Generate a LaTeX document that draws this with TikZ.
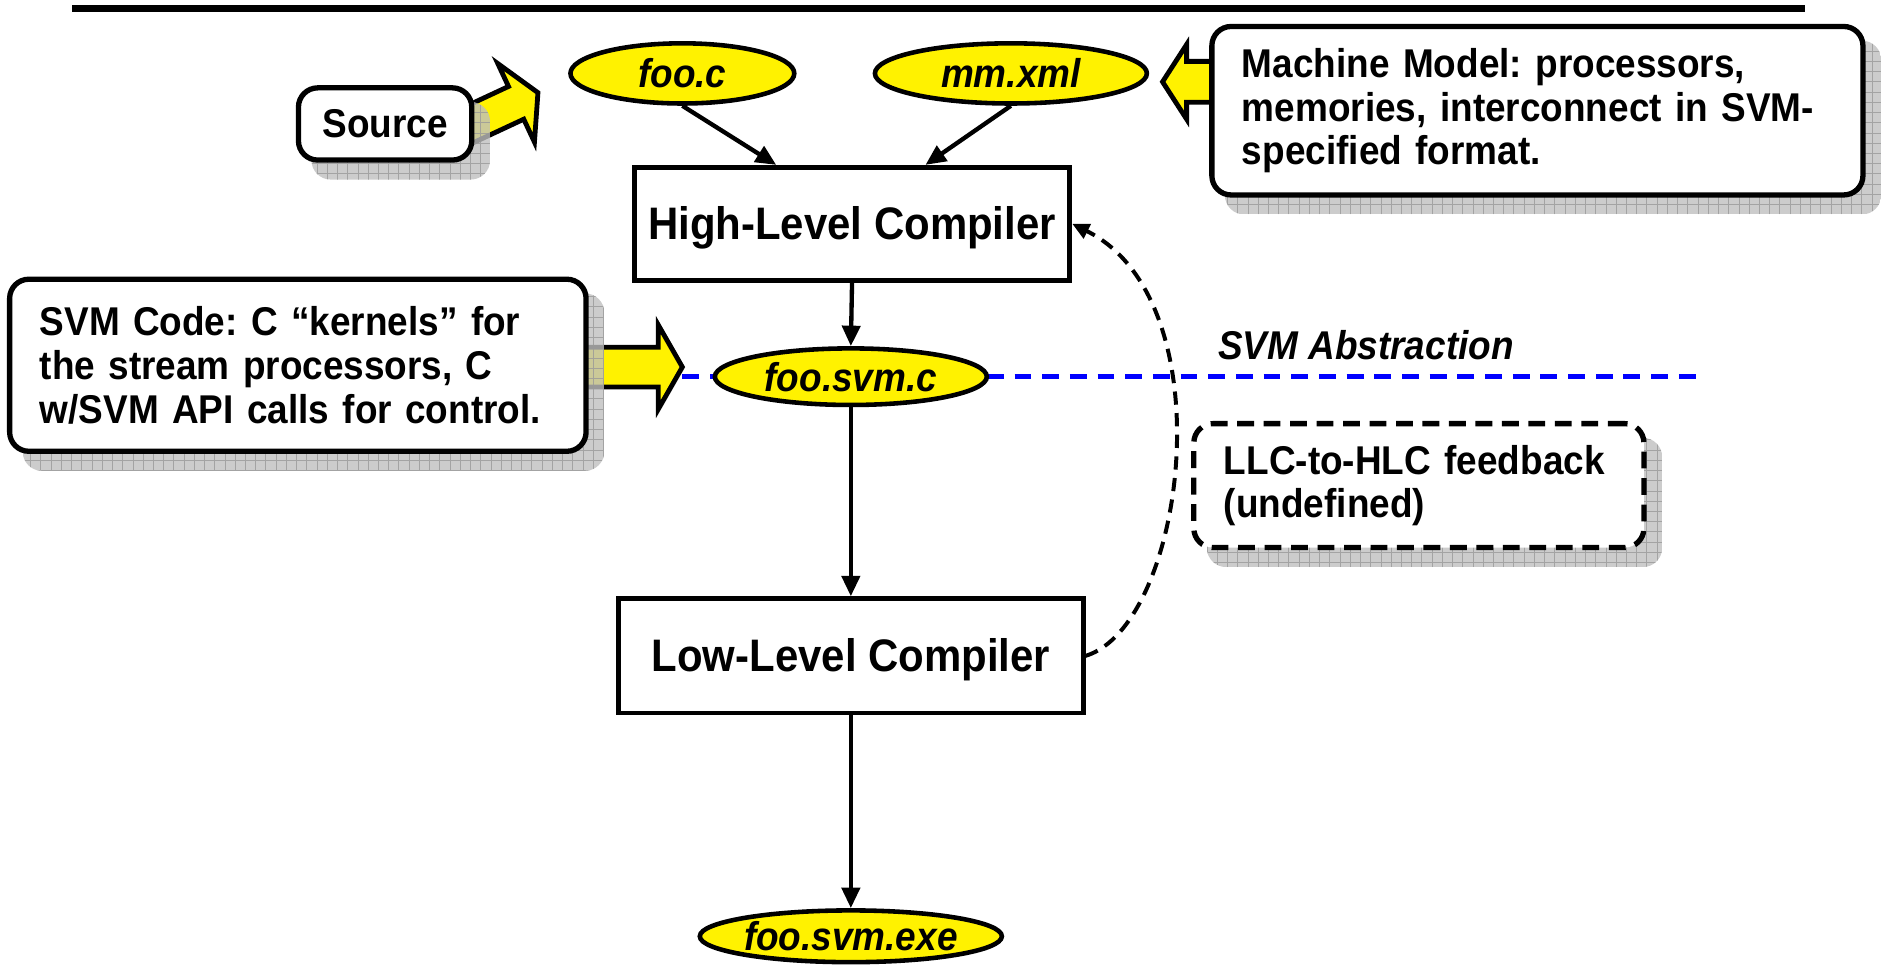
\documentclass[tikz,border=0pt]{standalone}
\usepackage{fontspec}
\setmainfont{Liberation Sans}[FakeStretch=0.92]
\frenchspacing
\usetikzlibrary{arrows.meta,shapes.geometric,calc}

\pgfdeclarelayer{under}
\pgfdeclarelayer{shade}
\pgfsetlayers{under,shade,main}

% yellow block pointer: tip coordinate, angle, total length, shaft half-width, head half-width, head length
\newcommand{\blockpointer}[6]{%
  \draw[pointer, shift={(#1)}, rotate=#2]
    (0,0) -- (-#6,-#5) -- (-#6,-#4) -- (-#3,-#4) -- (-#3,#4) -- (-#6,#4) -- (-#6,#5) -- cycle;}

% gridded drop shadow behind a callout node
\newcommand{\castshadow}[1]{%
  \begin{scope}
    \clip[rounded corners=16bp] ([shift={(13,14)}]#1.north west) rectangle ([shift={(13,14)}]#1.south east);
    \fill[gray!50, opacity=0.8] ([shift={(13,14)}]#1.north west) rectangle ([shift={(13,14)}]#1.south east);
    \draw[gray!80, line width=0.8bp, step=8.5bp, opacity=0.8] ([shift={(13,14)}]#1.north west) grid ([shift={(13,14)}]#1.south east);
  \end{scope}}

\tikzset{
  file/.style={ellipse, draw, line width=3.8bp, fill=yellow, inner sep=0pt,
    font=\fontsize{33.5}{38}\selectfont\bfseries\itshape},
  stage/.style={rectangle, draw, line width=4bp, fill=white,
    text height=28bp, text depth=2bp,
    font=\fontsize{38}{44}\selectfont\bfseries},
  note/.style={rectangle, rounded corners=16bp, draw, line width=4.4bp, fill=white,
    align=left, inner xsep=25bp, inner ysep=0pt,
    font=\fontsize{33.5}{36.5}\selectfont\bfseries},
  conn/.style={line width=3.6bp, -{Triangle[length=17bp,width=15bp]}},
  feedback/.style={line width=3.3bp, dash pattern=on 11bp off 7bp,
    -{Triangle[length=14bp,width=13bp]}},
  pointer/.style={draw, line width=4bp, fill=yellow, line join=miter},
  abstraction/.style={blue, line width=4.2bp, dash pattern=on 14bp off 9bp},
}

\begin{document}
\begin{tikzpicture}[x=1bp, y=-1bp]
\useasboundingbox (0,0) rectangle (1568,805);

% title rule
\draw[line width=5.5bp] (60,7) -- (1500,7);

% tool chain
\node[file, minimum width=186bp, minimum height=50bp] (fooc) at (567,61) {foo.c};
\node[file, minimum width=226bp, minimum height=50bp] (mmxml) at (840,61) {mm.xml};
\node[stage, minimum width=362bp, minimum height=94bp] (hlc) at (708,186) {High-Level Compiler};
\node[file, minimum width=226bp, minimum height=47bp] (svmc) at (707,313) {foo.svm.c};
\node[stage, minimum width=386bp, minimum height=95bp] (llc) at (707,545) {Low-Level Compiler};
\node[file, minimum width=226bp, minimum height=43bp] (exe) at (707,778) {foo.svm.exe};

% callouts
\node[note, align=center, inner xsep=0pt, minimum width=144bp, minimum height=60bp] (src) at (320,103) {Source};
\node[note, text width=491bp, minimum height=140bp] (mm) at (1277.5,92)
  {Machine Model: processors,\\memories, interconnect in SVM-\\specified format.};
\node[note, text width=429bp, minimum height=143bp] (code) at (247.5,303.5)
  {SVM Code: C “kernels” for\\the stream processors, C\\w/SVM API calls for control.};
\node[note, dash pattern=on 14bp off 8bp, text width=324bp, minimum height=103bp] (fb) at (1179,403.5)
  {LLC-to-HLC feedback\\(undefined)};

\node[anchor=west, inner sep=0pt, font=\fontsize{33.5}{38}\selectfont\bfseries\itshape] (abs) at (1012,287) {SVM Abstraction};

% pointer tips and the end of the abstraction line
\coordinate (srctip) at (447,77);
\coordinate (mmtip) at (966,68);
\coordinate (codetip) at (567,305);
\coordinate (absend) at (1418,313);

\begin{pgfonlayer}{under}
  \blockpointer{srctip}{25}{80}{15}{36}{20}
  \blockpointer{mmtip}{180}{70}{17}{31}{20}
  \blockpointer{codetip}{0}{130}{16.5}{35}{20}
  \draw[abstraction] (codetip |- svmc.center) -- (absend);
\end{pgfonlayer}

\begin{pgfonlayer}{shade}
  \castshadow{src}
  \castshadow{mm}
  \castshadow{code}
  \castshadow{fb}
\end{pgfonlayer}

% flow
\draw[conn] (fooc.south) -- ([xshift=120bp]hlc.north west);
\draw[conn] (mmxml.south) -- ([xshift=-122bp]hlc.north east);
\draw[conn] (hlc.south) -- (svmc.north);
\draw[conn] (svmc.south) -- (llc.north);
\draw[conn] (llc.south) -- (exe.north);
\draw[feedback] (llc.east) .. controls (985,520) and (1020,250) .. (hlc.east);
\end{tikzpicture}
\end{document}
